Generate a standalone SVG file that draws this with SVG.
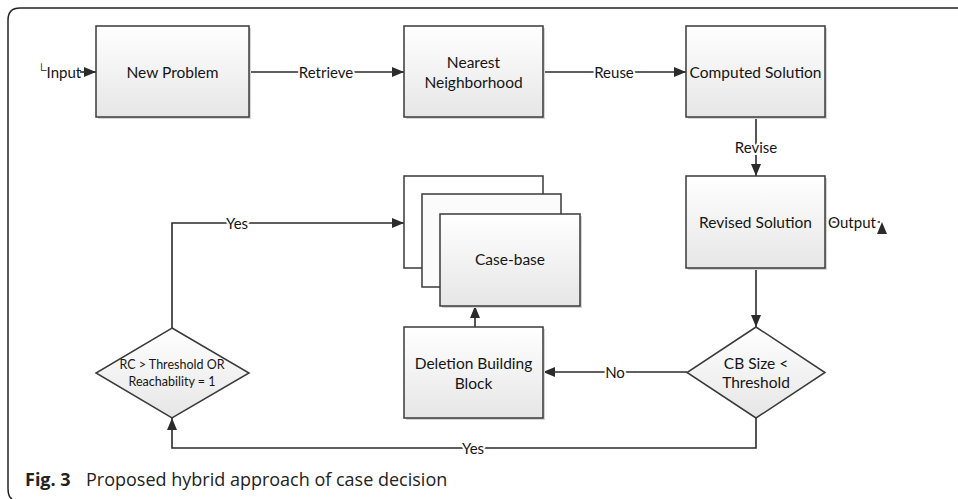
<svg xmlns="http://www.w3.org/2000/svg" width="958" height="499" viewBox="0 0 958 499">
  <defs>
    <linearGradient id="boxFill" x1="0" y1="0" x2="0" y2="1">
      <stop offset="0" stop-color="#ffffff"/>
      <stop offset="1" stop-color="#e6e6e6"/>
    </linearGradient>
    <marker id="arrow" viewBox="0 0 12 10" refX="12" refY="5" markerWidth="12" markerHeight="10" markerUnits="userSpaceOnUse" orient="auto">
      <path d="M0,0 L12,5 L0,10 Z" fill="#2b2b2b"/>
    </marker>
  </defs>
  <style>
    .box { fill: url(#boxFill); stroke: #3a3a3a; stroke-width: 1.5; }
    .shadow { fill: #d4d4d4; }
    .lbl { font-family: Lato, "Open Sans", "Liberation Sans", sans-serif; font-size: 15.5px; fill: #151515; text-anchor: middle; dominant-baseline: central; }
    .small { font-size: 12.5px; }
    .edge { fill: none; stroke: #2b2b2b; stroke-width: 1.6; }
    .elbl { font-family: Lato, "Open Sans", "Liberation Sans", sans-serif; font-size: 15px; fill: #151515; text-anchor: middle; dominant-baseline: central; stroke: #ffffff; stroke-width: 4; paint-order: stroke; }
    .cap { font-family: "Open Sans", "Liberation Sans", sans-serif; font-size: 18px; fill: #222; }
  </style>

  <rect width="958" height="499" fill="#ffffff"/>

  <!-- figure frame: top and left border with rounded corners -->
  <path d="M958,8 H20 Q8,8 8,20 V488 Q8,497 12,499" fill="none" stroke="#222" stroke-width="1.5"/>

  <!-- connectors -->
  <g id="connectors">
    <path class="edge" d="M80,72 H96" marker-end="url(#arrow)"/>
    <path class="edge" d="M249,72 H404" marker-end="url(#arrow)"/>
    <path class="edge" d="M543,72 H686" marker-end="url(#arrow)"/>
    <path class="edge" d="M756,117 V176" marker-end="url(#arrow)"/>
    <path class="edge" d="M825,222 H880"/>
    <path d="M882,222 L887,234 L877,234 Z" fill="#2b2b2b"/>
    <path class="edge" d="M756,268 V327" marker-end="url(#arrow)"/>
    <path class="edge" d="M687,372 H543" marker-end="url(#arrow)"/>
    <path class="edge" d="M475,327 V306" marker-end="url(#arrow)"/>
    <path class="edge" d="M756,418 V448 H172 V418" marker-end="url(#arrow)"/>
    <path class="edge" d="M172,328 V223 H404" marker-end="url(#arrow)"/>

    <text class="lbl" x="59" y="72" style="font-size:15px"><tspan font-size="13" dy="-3">└</tspan><tspan dy="3">Input</tspan></text>
    <text class="elbl" x="326" y="72">Retrieve</text>
    <text class="elbl" x="614" y="72">Reuse</text>
    <text class="elbl" x="756" y="147">Revise</text>
    <text class="elbl" x="852" y="222">Output</text>
    <text class="elbl" x="615" y="372">No</text>
    <text class="elbl" x="473" y="448">Yes</text>
    <text class="elbl" x="237" y="223">Yes</text>
  </g>

  <g id="new-problem">
    <rect class="shadow" x="98" y="28" width="153" height="91"/>
    <rect class="box" x="96" y="26" width="153" height="91"/>
    <text class="lbl" x="172.5" y="72">New Problem</text>
  </g>

  <g id="nearest-neighborhood">
    <rect class="shadow" x="406" y="28" width="139" height="91"/>
    <rect class="box" x="404" y="26" width="139" height="91"/>
    <text class="lbl" x="473.5" y="62">Nearest</text>
    <text class="lbl" x="473.5" y="82">Neighborhood</text>
  </g>

  <g id="computed-solution">
    <rect class="shadow" x="688" y="28" width="139" height="91"/>
    <rect class="box" x="686" y="26" width="139" height="91"/>
    <text class="lbl" x="755.5" y="72">Computed Solution</text>
  </g>

  <g id="revised-solution">
    <rect class="shadow" x="688" y="178" width="139" height="92"/>
    <rect class="box" x="686" y="176" width="139" height="92"/>
    <text class="lbl" x="755.5" y="222">Revised Solution</text>
  </g>

  <g id="case-base">
    <rect class="box" x="404" y="176" width="139" height="92" style="fill:#ffffff"/>
    <rect class="box" x="422" y="194" width="139" height="93" style="fill:#fbfbfb"/>
    <rect class="shadow" x="442" y="216" width="140" height="92"/>
    <rect class="box" x="440" y="214" width="140" height="92"/>
    <text class="lbl" x="510" y="259">Case-base</text>
  </g>

  <g id="deletion-building-block">
    <rect class="shadow" x="406" y="329" width="139" height="91"/>
    <rect class="box" x="404" y="327" width="139" height="91"/>
    <text class="lbl" x="473.5" y="363">Deletion Building</text>
    <text class="lbl" x="473.5" y="383">Block</text>
  </g>

  <g id="cb-size-check">
    <polygon class="box" points="756,327 825,372.5 756,418 687,372.5"/>
    <text class="lbl" x="756" y="363">CB Size &lt;</text>
    <text class="lbl" x="756" y="382">Threshold</text>
  </g>

  <g id="rc-check">
    <polygon class="box" points="172,328 249,373 172,418 96,373"/>
    <text class="lbl small" x="172" y="364">RC &gt; Threshold OR</text>
    <text class="lbl small" x="172" y="381">Reachability = 1</text>
  </g>

  <text class="cap" x="25" y="486"><tspan font-weight="bold">Fig. 3</tspan><tspan x="86">Proposed hybrid approach of case decision</tspan></text>
</svg>
